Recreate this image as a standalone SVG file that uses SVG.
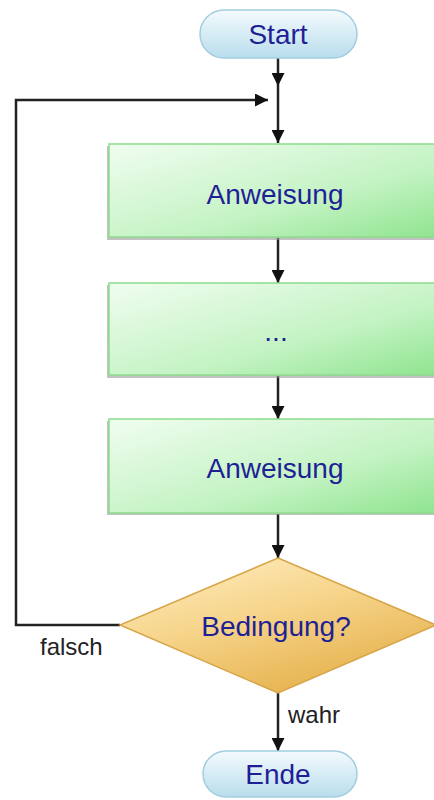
<svg xmlns="http://www.w3.org/2000/svg" width="434" height="800" viewBox="0 0 434 800">
<defs>
<linearGradient id="gPill" x1="0" y1="0" x2="0" y2="1">
<stop offset="0" stop-color="#f4fbfe"/>
<stop offset="1" stop-color="#b9ddec"/>
</linearGradient>
<linearGradient id="gBox" x1="0" y1="0" x2="1" y2="1">
<stop offset="0" stop-color="#f0fdf0"/>
<stop offset="0.6" stop-color="#c4f3c4"/>
<stop offset="1" stop-color="#8fe48f"/>
</linearGradient>
<linearGradient id="gDia" x1="0" y1="0" x2="0.6" y2="1">
<stop offset="0" stop-color="#fff0c6"/>
<stop offset="0.5" stop-color="#f6d48a"/>
<stop offset="1" stop-color="#e6b24e"/>
</linearGradient>
<marker id="arr" viewBox="0 0 10 10" refX="10" refY="5" markerWidth="13" markerHeight="13" markerUnits="userSpaceOnUse" orient="auto">
<path d="M0,0 L10,5 L0,10 z" fill="#111"/>
</marker>
</defs>
<style>
.pill{fill:url(#gPill);stroke:#a3cde0;stroke-width:1.5}
.box{fill:url(#gBox);stroke:#8cdc8c;stroke-width:1.5}
.shadow{fill:#9a9a9a;opacity:0.6}
.dia{fill:url(#gDia);stroke:#d8a548;stroke-width:1.5}
.lbl{font-family:"Liberation Sans",Arial,sans-serif;font-size:28px;fill:#1f1f96;text-anchor:middle}
.edge{font-family:"Liberation Sans",Arial,sans-serif;font-size:24px;fill:#222}
.conn{fill:none;stroke:#222;stroke-width:2.5}
</style>
<g id="connectors">
<path class="conn" d="M278,58 V86" marker-end="url(#arr)"/>
<path class="conn" d="M278,86 V143" marker-end="url(#arr)"/>
<path class="conn" d="M120,625 H16 V100 H268" marker-end="url(#arr)"/>
<path class="conn" d="M278,238 V283" marker-end="url(#arr)"/>
<path class="conn" d="M278,376 V419" marker-end="url(#arr)"/>
<path class="conn" d="M278,514 V558" marker-end="url(#arr)"/>
<path class="conn" d="M278,693 V751" marker-end="url(#arr)"/>
<text class="edge" x="40" y="655">falsch</text>
<text class="edge" x="288" y="723">wahr</text>
</g>
<g id="start">
<rect class="pill" x="200" y="10" width="157" height="48" rx="24"/>
<text class="lbl" x="278" y="44">Start</text>
</g>
<g id="anweisung1">
<rect class="shadow" x="107" y="146" width="330" height="94"/>
<rect class="box" x="109" y="144" width="330" height="93"/>
<text class="lbl" x="275" y="204">Anweisung</text>
</g>
<g id="dots">
<rect class="shadow" x="107" y="285" width="330" height="93"/>
<rect class="box" x="109" y="283" width="330" height="92"/>
<text class="lbl" x="276" y="341">...</text>
</g>
<g id="anweisung2">
<rect class="shadow" x="107" y="421" width="330" height="94"/>
<rect class="box" x="109" y="419" width="330" height="94"/>
<text class="lbl" x="275" y="478">Anweisung</text>
</g>
<g id="bedingung">
<path class="dia" d="M278,558 L436,625 L278,693 L120,625 z"/>
<text class="lbl" x="276" y="636">Bedingung?</text>
</g>
<g id="ende">
<rect class="pill" x="203" y="751" width="154" height="46" rx="23"/>
<text class="lbl" x="278" y="784">Ende</text>
</g>
</svg>
